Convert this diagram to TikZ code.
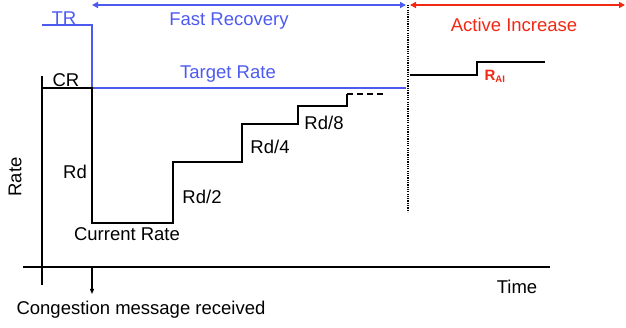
\documentclass[tikz,border=0pt]{standalone}
\usepackage{fontspec}
\setmainfont{Liberation Sans}
\usetikzlibrary{arrows.meta}
\definecolor{frblue}{RGB}{77,90,240}
\definecolor{aired}{RGB}{240,40,20}
\tikzset{
  lbl/.style={inner sep=0pt, font=\fontsize{18.5}{21}\selectfont},
  ln/.style={line width=1.5pt, black},
  bl/.style={line width=1.5pt, frblue},
  tip/.style={-{Triangle[length=6pt,width=6pt]}}
}
\begin{document}
\begin{tikzpicture}[x=1pt,y=-1pt]
\useasboundingbox (0,0) rectangle (626,328);
% coordinates
\coordinate (frL) at (92,5);
\coordinate (frR) at (406,5);
\coordinate (aiL) at (410,5);
\coordinate (aiR) at (625,5);
\coordinate (dotT) at (408,5);
\coordinate (dotB) at (408,212);
\coordinate (yT) at (42,76);
\coordinate (yB) at (42,285);
\coordinate (xL) at (23,267);
\coordinate (xR) at (550,267);
\coordinate (cm0) at (92,267);
\coordinate (cm1) at (92,294);
% arrows on top
\draw[bl, {Triangle[length=6pt,width=6pt]}-{Triangle[length=6pt,width=6pt]}] (frL) -- (frR);
\draw[line width=1.5pt, aired, {Triangle[length=6pt,width=6pt]}-{Triangle[length=6pt,width=6pt]}] (aiL) -- (aiR);
\draw[line width=1.9pt, dash pattern=on 1.2pt off 1.1pt] (dotT) -- (dotB);
% axes
\draw[ln] (yT) -- (yB);
\draw[ln] (xL) -- (xR);
\draw[line width=1.2pt, -{Triangle[length=5pt,width=4pt]}] (cm0) -- (cm1);
% TR blue
\draw[bl] (42,25) -- (92,25) -- (92,88) -- (406,88);
% black staircase
\draw[ln] (42,88) -- (92,88) -- (92,223) -- (173,223) -- (173,162) -- (242,162) -- (242,124) -- (298,124) -- (298,106) -- (347,106) -- (347,94);
\draw[ln] (347,94) -- (383,94) [dash pattern=on 6pt off 4pt];
\draw[ln] (410,75) -- (477,75) -- (477,62) -- (545,62);
% labels
\node[lbl, text=frblue] (tr) at (64,18) {TR};
\node[lbl, text=frblue] (fr) at (229,21) {Fast Recovery};
\node[lbl, text=frblue] (tgt) at (228,74) {Target Rate};
\node[lbl, text=aired] (ai) at (514,25) {Active Increase};
\node[lbl] (cr) at (66,80) {CR};
\node[lbl] (rd) at (75,172) {Rd};
\node[lbl] (rd2) at (202,197) {Rd/2};
\node[lbl] (rd4) at (270,147) {Rd/4};
\node[lbl] (rd8) at (324,123) {Rd/8};
\node[lbl] (cur) at (127,234) {Current Rate};
\node[lbl] (cong) at (141,310) {Congestion message received};
\node[lbl] (time) at (517,287) {Time};
\node[lbl, rotate=90] (rate) at (15,177) {Rate};
\node[inner sep=0pt, text=aired, font=\fontsize{15}{17}\selectfont\bfseries] (rai) at (495,76) {R\textsubscript{\fontsize{9.5}{10}\selectfont AI}};
\end{tikzpicture}
\end{document}
